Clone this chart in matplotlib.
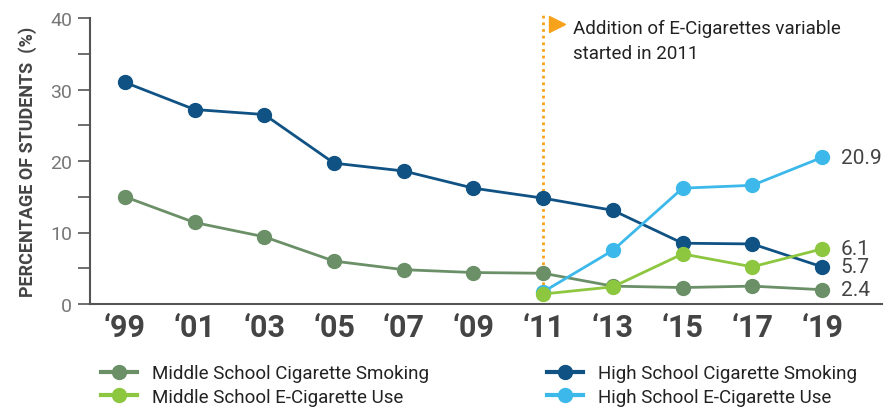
import matplotlib
matplotlib.use('Agg')
import matplotlib.pyplot as plt
from matplotlib.lines import Line2D
from matplotlib.ticker import MultipleLocator

plt.rcParams['font.family'] = ['Roboto', 'DejaVu Sans']

# 데이터
years = ['\u201899', '\u201801', '\u201803', '\u201805', '\u201807', '\u201809',
         '\u201811', '\u201813', '\u201815', '\u201817', '\u201819']
hs_cig = [31.0, 27.2, 26.5, 19.7, 18.6, 16.2, 14.8, 13.1, 8.5, 8.4, 5.2]
ms_cig = [15.0, 11.4, 9.4, 6.0, 4.8, 4.4, 4.3, 2.5, 2.3, 2.5, 2.0]
hs_ecig = [None] * 6 + [1.7, 7.5, 16.2, 16.6, 20.5]
ms_ecig = [None] * 6 + [1.4, 2.4, 7.0, 5.2, 7.7]
end_labels = {'hs_ecig': '20.9', 'ms_ecig': '6.1', 'hs_cig': '5.7', 'ms_cig': '2.4'}

colors = {
    'ms_cig': '#6b9068',
    'ms_ecig': '#8dc63f',
    'hs_cig': '#0f5283',
    'hs_ecig': '#3cb9ea',
}
series = {'ms_cig': ms_cig, 'ms_ecig': ms_ecig, 'hs_cig': hs_cig, 'hs_ecig': hs_ecig}
names = {
    'ms_cig': 'Middle School Cigarette Smoking',
    'ms_ecig': 'Middle School E-Cigarette Use',
    'hs_cig': 'High School Cigarette Smoking',
    'hs_ecig': 'High School E-Cigarette Use',
}

fig = plt.figure(figsize=(8.94, 4.10), dpi=100)
ax = fig.add_axes([90 / 894, 105 / 410, 792 / 894, 286 / 410])

x = list(range(len(years)))
for key in ['ms_cig', 'hs_cig', 'hs_ecig', 'ms_ecig']:
    vals = series[key]
    xs = [i for i, v in zip(x, vals) if v is not None]
    ys = [v for v in vals if v is not None]
    ax.plot(xs, ys, color=colors[key], lw=2, marker='o', ms=10, zorder=3)
    ax.text(xs[-1] + 0.27, ys[-1], end_labels[key], color='#444444',
            fontsize=15, va='center', ha='left')

# 2011 주석선
ax.plot([6, 6], [0.8, 40.6], color='#f7a21b', lw=2, ls=(0, (1.0, 1.4)),
        zorder=2, clip_on=False)
ax.plot([6.2], [39.1], marker='>', color='#f7a21b', ms=12, clip_on=False)
ax.text(6.43, 39.9, 'Addition of E-Cigarettes variable\nstarted in 2011',
        fontsize=13.5, color='#222222', va='top', ha='left', linespacing=1.5)

ax.set_xlim(-0.5, 10.86)
ax.set_ylim(0, 40)
ax.set_xticks(x)
ax.set_xticklabels(years, fontsize=22, fontweight='bold', color='#444444')
ax.tick_params(axis='x', length=0, pad=6)
ax.yaxis.set_major_locator(MultipleLocator(10))
ax.yaxis.set_minor_locator(MultipleLocator(5))
ax.tick_params(axis='y', which='both', length=9, width=1.2, color='#555555',
               labelsize=14, labelcolor='#777777', pad=4)
ax.set_ylabel('PERCENTAGE OF STUDENTS  (%)', fontsize=13, fontweight='bold',
              color='#444444', labelpad=9)
for s in ['top', 'right']:
    ax.spines[s].set_visible(False)
for s in ['left', 'bottom']:
    ax.spines[s].set_color('#555555')
    ax.spines[s].set_linewidth(1.5)

def handle(key):
    return Line2D([], [], color=colors[key], lw=3, marker='o', ms=10)

leg_kw = dict(frameon=False, fontsize=13.5, handlelength=1.9, handletextpad=0.8,
              labelspacing=0.3, borderpad=0, labelcolor='#222222')
fig.legend([handle('ms_cig'), handle('ms_ecig')], [names['ms_cig'], names['ms_ecig']],
           loc='upper left', bbox_to_anchor=(92 / 894, 1 - 356 / 410), **leg_kw)
fig.legend([handle('hs_cig'), handle('hs_ecig')], [names['hs_cig'], names['hs_ecig']],
           loc='upper left', bbox_to_anchor=(538 / 894, 1 - 356 / 410), **leg_kw)

fig.savefig('out.png', dpi=100)
